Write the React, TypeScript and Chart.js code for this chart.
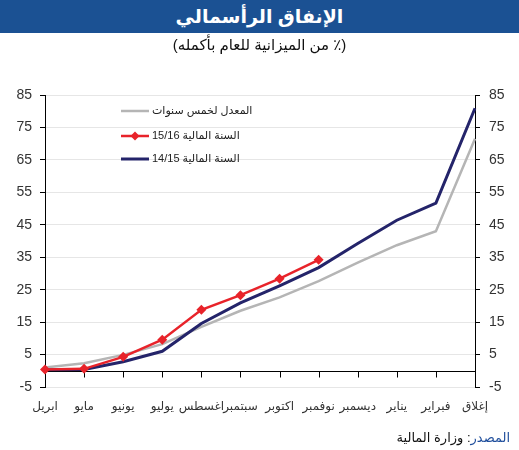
import React, { useEffect, useRef } from "react";
import { Chart, registerables } from "chart.js";

Chart.register(...registerables);

const months = ["ابريل", "مايو", "يونيو", "يوليو", "اغسطس", "سبتمبر", "اكتوبر", "نوفمبر", "ديسمبر", "يناير", "فبراير", "إغلاق"];
const avgFiveYears = [1.0, 2.3, 4.9, 8.2, 13.5, 18.5, 22.6, 27.6, 33.3, 38.7, 43.0, 71.5];
const fy1516 = [0.4, 0.6, 4.3, 9.6, 18.8, 23.3, 28.4, 34.2, null, null, null, null];
const fy1415 = [0.3, 0.4, 2.8, 6.0, 14.6, 20.9, 26.2, 31.8, 39.2, 46.4, 51.7, 80.9];
const yTicks = [-5, 5, 15, 25, 35, 45, 55, 65, 75, 85];
const legendLabels = ["المعدل لخمس سنوات", "السنة المالية 15/16", "السنة المالية 14/15"];

const GRAY = "#b5b5b5";
const RED = "#e8232a";
const NAVY = "#24246a";

const zeroAxisPlugin = {
  id: "zeroAxis",
  beforeDatasetsDraw(chart: any) {
    const { ctx, chartArea, scales } = chart;
    const y0 = Math.round(scales.y.getPixelForValue(0)) + 0.5;
    ctx.save();
    ctx.strokeStyle = "#000";
    ctx.lineWidth = 1;
    ctx.beginPath();
    ctx.moveTo(chartArea.left, y0);
    ctx.lineTo(chartArea.right, y0);
    for (let i = 0; i < months.length; i++) {
      const x = Math.round(scales.x.getPixelForValue(i)) + 0.5;
      ctx.moveTo(x, y0);
      ctx.lineTo(x, y0 + 6);
    }
    ctx.stroke();
    ctx.restore();
  },
};

const legendPlugin = {
  id: "customLegend",
  afterDraw(chart: any) {
    const { ctx } = chart;
    const rows = [
      { y: 111, color: GRAY, width: 2.5, marker: false },
      { y: 136, color: RED, width: 2.5, marker: true },
      { y: 159, color: NAVY, width: 3, marker: false },
    ];
    ctx.save();
    rows.forEach((r, i) => {
      ctx.strokeStyle = r.color;
      ctx.lineWidth = r.width;
      ctx.beginPath();
      ctx.moveTo(121, r.y);
      ctx.lineTo(149, r.y);
      ctx.stroke();
      if (r.marker) {
        ctx.fillStyle = r.color;
        ctx.beginPath();
        ctx.moveTo(135, r.y - 4.5);
        ctx.lineTo(139.5, r.y);
        ctx.lineTo(135, r.y + 4.5);
        ctx.lineTo(130.5, r.y);
        ctx.closePath();
        ctx.fill();
      }
      ctx.fillStyle = "#222";
      ctx.font = "11px Arial, 'DejaVu Sans', sans-serif";
      (ctx as any).direction = "rtl";
      ctx.textAlign = "left";
      ctx.textBaseline = "middle";
      ctx.fillText(legendLabels[i], 152, r.y);
    });
    ctx.restore();
  },
};

export default function App() {
  const canvasRef = useRef<HTMLCanvasElement | null>(null);

  useEffect(() => {
    if (!canvasRef.current) return;
    const setTicks = (scale: any) => {
      scale.ticks = yTicks.map((v) => ({ value: v }));
    };
    const chart = new Chart(canvasRef.current, {
      type: "line",
      data: {
        labels: months,
        datasets: [
          {
            label: legendLabels[0],
            data: avgFiveYears,
            borderColor: GRAY,
            backgroundColor: GRAY,
            borderWidth: 2.5,
            pointRadius: 0,
            tension: 0,
            order: 3,
          },
          {
            label: legendLabels[2],
            data: fy1415,
            borderColor: NAVY,
            backgroundColor: NAVY,
            borderWidth: 3,
            pointRadius: 0,
            tension: 0,
            order: 2,
          },
          {
            label: legendLabels[1],
            data: fy1516 as any,
            borderColor: RED,
            backgroundColor: RED,
            borderWidth: 2.5,
            pointStyle: "rectRot",
            pointRadius: 5,
            pointBorderWidth: 0,
            tension: 0,
            spanGaps: false,
            order: 1,
          },
        ],
      },
      options: {
        animation: false,
        responsive: false,
        maintainAspectRatio: false,
        layout: { padding: { top: 95, left: 0, right: 0, bottom: 0 } },
        plugins: {
          legend: { display: false },
          tooltip: { enabled: false },
          title: { display: false },
        },
        scales: {
          x: {
            type: "category",
            offset: false,
            grid: { display: false, drawTicks: false },
            border: { display: false },
            ticks: {
              color: "#333",
              font: { size: 12, family: "Arial, 'DejaVu Sans', sans-serif" },
              padding: 12,
              maxRotation: 0,
              autoSkip: false,
            },
            afterFit: (s: any) => {
              s.height = 63;
            },
          },
          y: {
            type: "linear",
            position: "left",
            min: -5,
            max: 85,
            afterBuildTicks: setTicks,
            grid: { color: "#e6e6e6", tickColor: "#000", tickLength: 5, drawTicks: true },
            border: { color: "#000", width: 1 },
            ticks: {
              color: "#333",
              font: { size: 14, family: "Arial, 'Liberation Sans', sans-serif" },
              padding: 8,
            },
            afterFit: (s: any) => {
              s.width = 45;
            },
          },
          y2: {
            type: "linear",
            position: "right",
            min: -5,
            max: 85,
            afterBuildTicks: setTicks,
            grid: { drawOnChartArea: false, tickColor: "#000", tickLength: 5, drawTicks: true },
            border: { color: "#000", width: 1 },
            ticks: {
              color: "#333",
              font: { size: 14, family: "Arial, 'Liberation Sans', sans-serif" },
              padding: 9,
            },
            afterFit: (s: any) => {
              s.width = 44;
            },
          },
        },
      },
      plugins: [zeroAxisPlugin, legendPlugin],
    });
    return () => chart.destroy();
  }, []);

  return (
    <div style={{ position: "absolute", top: 0, left: 0, width: 519, height: 450, background: "#fff", overflow: "hidden", fontFamily: "Arial, 'DejaVu Sans', sans-serif" }}>
      <canvas ref={canvasRef} width={519} height={450} style={{ position: "absolute", top: 0, left: 0, width: 519, height: 450 }} />
      <div
        dir="rtl"
        style={{ position: "absolute", top: 0, left: 0, width: 519, height: 33, background: "#1b5193", color: "#fff", fontWeight: "bold", fontSize: 19, lineHeight: "33px", textAlign: "center" }}
      >
        الإنفاق الرأسمالي
      </div>
      <div dir="rtl" style={{ position: "absolute", top: 35, left: 0, width: 519, fontSize: 15, lineHeight: "20px", textAlign: "center", color: "#111" }}>
        (٪ من الميزانية للعام بأكمله)
      </div>
      <div dir="rtl" style={{ position: "absolute", top: 429, right: 9, fontSize: 13, lineHeight: "18px", color: "#111", whiteSpace: "nowrap" }}>
        <span style={{ color: "#1f4e9c" }}>المصدر</span>: وزارة المالية
      </div>
    </div>
  );
}
